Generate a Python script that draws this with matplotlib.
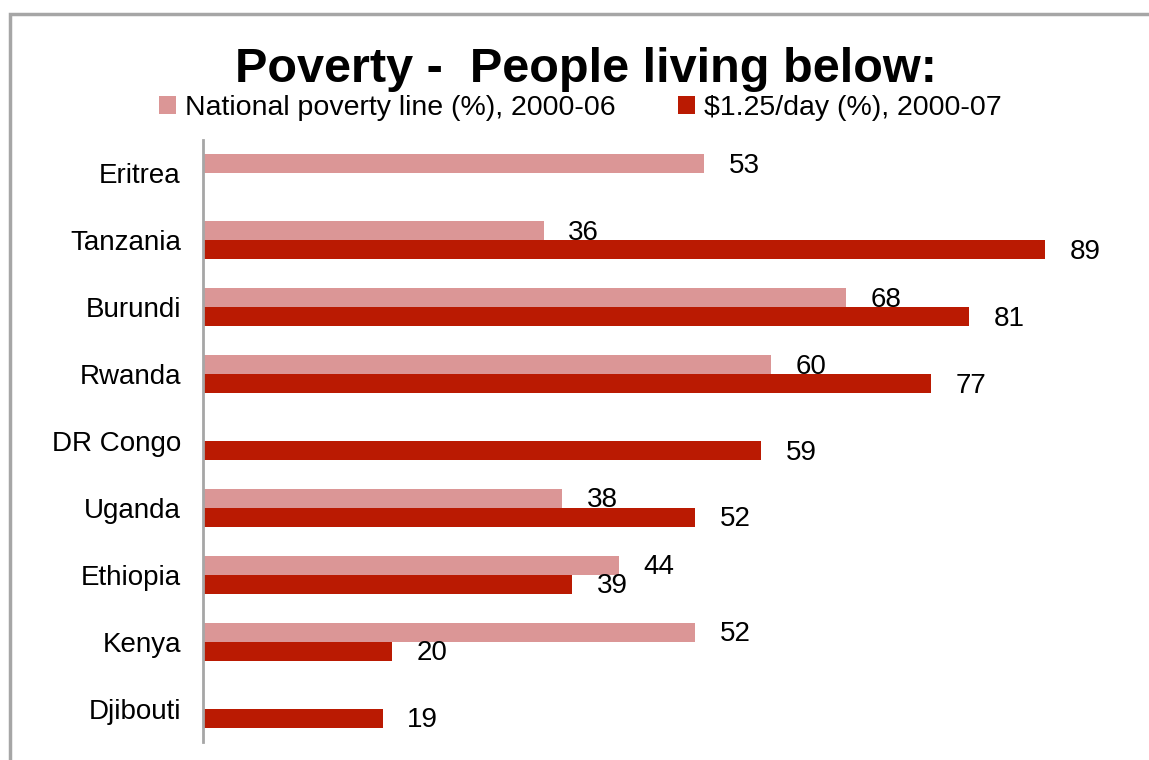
import matplotlib.pyplot as plt
from matplotlib.patches import Rectangle
import numpy as np

countries = ['Eritrea', 'Tanzania', 'Burundi', 'Rwanda', 'DR Congo',
             'Uganda', 'Ethiopia', 'Kenya', 'Djibouti']
national = [53, 36, 68, 60, None, 38, 44, 52, None]
dollar = [None, 89, 81, 77, 59, 52, 39, 20, 19]

pink = '#DB9696'
red = '#BA1A02'

plt.rcParams['font.family'] = ['Liberation Sans', 'DejaVu Sans']

fig = plt.figure(figsize=(11.49, 7.6), dpi=100)
ax = fig.add_axes([0.1767, 0.0237, 0.8233, 0.7921])

y = np.arange(len(countries))
h = 0.285
nat_vals = [np.nan if v is None else v for v in national]
dol_vals = [np.nan if v is None else v for v in dollar]
ax.barh(y - h / 2, nat_vals, height=h, color=pink, label='National poverty line (%), 2000-06')
ax.barh(y + h / 2, dol_vals, height=h, color=red, label='$1.25/day (%), 2000-07')

# value labels just right of each bar
for i, v in enumerate(national):
    if v is not None:
        ax.text(v + 2.6, i - h / 2 + 0.03, str(v), va='center', ha='left', fontsize=20)
for i, v in enumerate(dollar):
    if v is not None:
        ax.text(v + 2.6, i + h / 2 + 0.03, str(v), va='center', ha='left', fontsize=20)

ax.set_xlim(0, 100)
ax.set_ylim(len(countries) - 0.5, -0.5)
ax.set_yticks(y)
ax.set_yticklabels(countries, fontsize=20)
ax.tick_params(axis='y', length=0, pad=16)
ax.set_xticks([])
for s in ['top', 'right', 'bottom']:
    ax.spines[s].set_visible(False)
ax.spines['left'].set_color('#A6A6A6')
ax.spines['left'].set_linewidth(2)

fig.text(0.51, 0.908, 'Poverty -  People living below:', ha='center', va='center',
         fontsize=35, fontweight='bold')
fig.legend(loc='center', bbox_to_anchor=(0.505, 0.858), ncol=2, frameon=False,
           fontsize=20.5, handlelength=0.6, handleheight=0.6, handletextpad=0.3,
           columnspacing=2.2, borderpad=0)

# grey frame around the chart area
fig.patches.append(Rectangle((10 / 1149, -0.1), 1.2, 1 - 14 / 760 + 0.1,
                             transform=fig.transFigure, fill=False,
                             edgecolor='#A6A6A6', linewidth=2.5))

plt.savefig('out.png', dpi=100)
